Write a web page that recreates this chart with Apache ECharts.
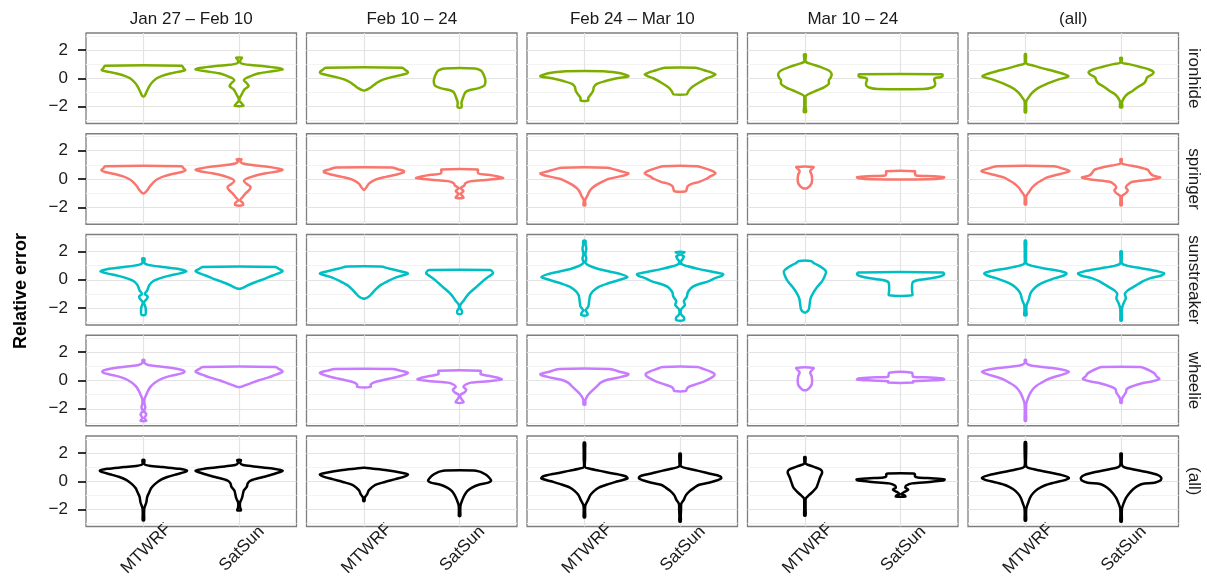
<!DOCTYPE html>
<html>
<head>
<meta charset="utf-8">
<script src="https://cdn.jsdelivr.net/npm/echarts@6/dist/echarts.min.js"></script>
<style>html,body{margin:0;padding:0;background:#fff}#chart{width:1207px;height:581px}</style>
</head>
<body>
<div id="chart"></div>
<script>
// ---- categories ----
const columns = ['Jan 27 \u2013 Feb 10', 'Feb 10 \u2013 24', 'Feb 24 \u2013 Mar 10', 'Mar 10 \u2013 24', '(all)'];
const rows = ['ironhide', 'springer', 'sunstreaker', 'wheelie', '(all)'];
const dayTypes = ['MTWRF', 'SatSun'];
const rowColors = ['#7CAE00', '#F8766D', '#00BFC4', '#C77CFF', '#000000'];
const yTicks = [-2, 0, 2];
const yGridMajor = [-2, 0, 2];
const yGridMinor = [-3, -1, 1, 3];

// ---- violin profiles: [relative error, half width], bottom to top, one per column ----
const ironhideMTWRF = [
  [[-1.27,0.01],[-1.0,0.03],[-0.6,0.06],[-0.3,0.09],[0,0.14],[0.15,0.19],[0.33,0.28],[0.45,0.36],[0.57,0.435],[0.7,0.42],[0.88,0.40]],
  [[-0.86,0.01],[-0.7,0.06],[-0.5,0.1],[-0.3,0.14],[-0.1,0.2],[0.1,0.3],[0.3,0.43],[0.43,0.46],[0.6,0.43],[0.74,0.40]],
  [[-1.57,0.04],[-1.4,0.04],[-1.2,0.06],[-0.9,0.09],[-0.6,0.1],[-0.4,0.13],[-0.2,0.22],[0,0.34],[0.14,0.46],[0.27,0.42],[0.4,0.33],[0.5,0.2]],
  [[-2.38,0.012],[-2.0,0.007],[-1.6,0.007],[-1.25,0.01],[-1.05,0.06],[-0.85,0.13],[-0.65,0.2],[-0.4,0.25],[-0.15,0.25],[0.05,0.27],[0.3,0.28],[0.55,0.25],[0.8,0.16],[1.0,0.07],[1.15,0.01],[1.4,0.007],[1.68,0.01]],
  [[-2.4,0.007],[-2.0,0.007],[-1.6,0.01],[-1.3,0.04],[-1.1,0.06],[-0.8,0.11],[-0.6,0.16],[-0.35,0.24],[-0.1,0.34],[0.05,0.42],[0.15,0.45],[0.3,0.4],[0.5,0.3],[0.7,0.18],[0.9,0.08],[1.05,0.01],[1.3,0.006],[1.7,0.006]]
];
const ironhideSatSun = [
  [[-1.95,0.045],[-1.8,0.03],[-1.6,0.004],[-1.4,0.006],[-1.1,0.03],[-0.8,0.055],[-0.55,0.1],[-0.35,0.08],[-0.15,0.05],[0,0.07],[0.2,0.14],[0.35,0.21],[0.5,0.35],[0.62,0.455],[0.72,0.41],[0.82,0.3],[0.92,0.15],[1.0,0.05],[1.1,0.012],[1.3,0.015],[1.45,0.03]],
  [[-2.05,0.02],[-1.7,0.02],[-1.3,0.04],[-1.0,0.06],[-0.85,0.1],[-0.7,0.2],[-0.5,0.26],[-0.2,0.27],[0.1,0.26],[0.4,0.24],[0.55,0.22],[0.69,0.16]],
  [[-1.14,0.07],[-1.0,0.08],[-0.8,0.1],[-0.6,0.13],[-0.3,0.2],[0,0.28],[0.15,0.34],[0.27,0.37],[0.4,0.33],[0.55,0.26],[0.68,0.2],[0.74,0.16]],
  [[-0.76,0.24],[-0.65,0.33],[-0.5,0.36],[-0.3,0.36],[-0.1,0.35],[0.0,0.36],[0.1,0.43],[0.22,0.44],[0.29,0.43]],
  [[-2.05,0.012],[-1.7,0.01],[-1.4,0.03],[-1.1,0.07],[-0.9,0.12],[-0.6,0.18],[-0.35,0.24],[-0.15,0.26],[0.05,0.27],[0.25,0.32],[0.42,0.34],[0.6,0.3],[0.8,0.2],[1.0,0.08],[1.1,0.01],[1.3,0.007],[1.43,0.01]]
];
const springerMTWRF = [
  [[-1.0,0.01],[-0.8,0.04],[-0.5,0.07],[-0.2,0.11],[0,0.15],[0.2,0.22],[0.35,0.3],[0.5,0.4],[0.62,0.44],[0.75,0.42],[0.9,0.40]],
  [[-0.75,0.006],[-0.55,0.03],[-0.35,0.05],[-0.15,0.09],[0,0.14],[0.15,0.23],[0.3,0.33],[0.45,0.41],[0.55,0.42],[0.68,0.36],[0.81,0.29]],
  [[-1.85,0.01],[-1.5,0.007],[-1.2,0.03],[-0.9,0.05],[-0.65,0.08],[-0.4,0.13],[-0.15,0.2],[0,0.25],[0.15,0.35],[0.3,0.44],[0.4,0.46],[0.55,0.38],[0.7,0.3],[0.8,0.24]],
  [[-0.65,0.02],[-0.5,0.05],[-0.3,0.07],[0,0.075],[0.3,0.07],[0.55,0.055],[0.7,0.07],[0.85,0.09]],
  [[-1.8,0.007],[-1.5,0.007],[-1.2,0.01],[-0.9,0.04],[-0.6,0.07],[-0.3,0.12],[-0.1,0.17],[0.1,0.22],[0.3,0.33],[0.45,0.42],[0.57,0.46],[0.72,0.4],[0.9,0.3]]
];
const springerSatSun = [
  [[-1.85,0.04],[-1.7,0.04],[-1.5,0.01],[-1.25,0.04],[-1.0,0.07],[-0.75,0.11],[-0.55,0.12],[-0.35,0.08],[-0.15,0.05],[0,0.07],[0.2,0.15],[0.4,0.28],[0.55,0.41],[0.65,0.455],[0.75,0.4],[0.88,0.28],[1.0,0.12],[1.1,0.04],[1.25,0.012],[1.4,0.025]],
  [[-1.33,0.04],[-1.2,0.03],[-1.05,0.01],[-0.85,0.04],[-0.65,0.01],[-0.45,0.05],[-0.3,0.06],[-0.15,0.12],[-0.05,0.3],[0.06,0.455],[0.18,0.4],[0.3,0.3],[0.38,0.2],[0.5,0.19],[0.67,0.19]],
  [[-0.86,0.06],[-0.7,0.07],[-0.5,0.08],[-0.35,0.12],[-0.2,0.2],[0,0.27],[0.2,0.32],[0.4,0.37],[0.55,0.34],[0.75,0.26],[0.9,0.18]],
  [[-0.02,0.3],[0.05,0.44],[0.12,0.455],[0.2,0.35],[0.25,0.16],[0.4,0.15],[0.55,0.15]],
  [[-1.86,0.007],[-1.5,0.007],[-1.2,0.01],[-1.0,0.05],[-0.8,0.07],[-0.6,0.05],[-0.4,0.07],[-0.2,0.12],[-0.05,0.3],[0.1,0.41],[0.25,0.33],[0.45,0.3],[0.65,0.28],[0.85,0.18],[1.0,0.06],[1.1,0.007],[1.4,0.007]]
];
const sunstreakerMTWRF = [
  [[-2.48,0.02],[-2.2,0.025],[-1.9,0.02],[-1.6,0.006],[-1.4,0.03],[-1.2,0.045],[-1.0,0.015],[-0.75,0.04],[-0.4,0.06],[-0.1,0.1],[0.1,0.17],[0.3,0.28],[0.45,0.38],[0.6,0.45],[0.75,0.38],[0.9,0.2],[1.05,0.05],[1.2,0.01],[1.5,0.012]],
  [[-1.33,0.01],[-1.2,0.05],[-1.0,0.08],[-0.7,0.12],[-0.4,0.17],[-0.1,0.25],[0.15,0.33],[0.35,0.43],[0.45,0.46],[0.6,0.38],[0.8,0.26],[0.93,0.17]],
  [[-2.5,0.03],[-2.35,0.03],[-2.15,0.012],[-1.9,0.04],[-1.5,0.05],[-1.1,0.06],[-0.8,0.09],[-0.5,0.15],[-0.25,0.25],[0,0.37],[0.2,0.45],[0.4,0.38],[0.6,0.25],[0.8,0.13],[1.0,0.05],[1.2,0.01],[1.5,0.02],[1.8,0.01],[2.2,0.02],[2.5,0.012],[2.75,0.012]],
  [[-2.3,0.012],[-2.1,0.04],[-1.7,0.05],[-1.3,0.06],[-0.9,0.09],[-0.5,0.13],[-0.1,0.18],[0.3,0.21],[0.6,0.22],[0.9,0.17],[1.15,0.1],[1.33,0.06]],
  [[-2.5,0.012],[-2.2,0.01],[-1.8,0.012],[-1.4,0.035],[-1.0,0.05],[-0.7,0.08],[-0.4,0.13],[-0.15,0.2],[0.1,0.3],[0.3,0.4],[0.45,0.43],[0.6,0.37],[0.8,0.2],[1.0,0.06],[1.15,0.01],[1.6,0.007],[2.2,0.007],[2.75,0.007]]
];
const sunstreakerSatSun = [
  [[-0.62,0.02],[-0.5,0.06],[-0.3,0.12],[-0.1,0.2],[0.1,0.28],[0.3,0.35],[0.5,0.43],[0.62,0.455],[0.75,0.42],[0.9,0.38]],
  [[-2.4,0.02],[-2.2,0.025],[-2.0,0.006],[-1.75,0.01],[-1.5,0.04],[-1.2,0.07],[-0.9,0.11],[-0.6,0.16],[-0.3,0.21],[0,0.26],[0.25,0.31],[0.45,0.35],[0.6,0.34],[0.69,0.32]],
  [[-2.85,0.04],[-2.65,0.04],[-2.45,0.01],[-2.1,0.01],[-1.8,0.05],[-1.5,0.04],[-1.2,0.07],[-0.9,0.08],[-0.7,0.1],[-0.5,0.13],[-0.3,0.2],[-0.1,0.3],[0.1,0.36],[0.3,0.44],[0.4,0.45],[0.55,0.35],[0.75,0.2],[0.95,0.08],[1.1,0.02],[1.3,0.01],[1.5,0.03],[1.65,0.04],[1.8,0.006],[1.95,0.045]],
  [[-1.1,0.12],[-0.8,0.12],[-0.4,0.12],[-0.15,0.13],[0,0.2],[0.1,0.32],[0.25,0.42],[0.38,0.455],[0.52,0.44]],
  [[-2.88,0.007],[-2.4,0.007],[-2.0,0.01],[-1.6,0.03],[-1.3,0.05],[-1.0,0.04],[-0.75,0.07],[-0.5,0.13],[-0.3,0.18],[-0.1,0.23],[0.1,0.3],[0.3,0.42],[0.45,0.45],[0.6,0.38],[0.8,0.22],[1.0,0.06],[1.15,0.01],[1.6,0.007],[2.0,0.007]]
];
const wheelieMTWRF = [
  [[-2.85,0.03],[-2.65,0.01],[-2.4,0.03],[-2.15,0.007],[-1.9,0.02],[-1.6,0.01],[-1.3,0.012],[-1.0,0.03],[-0.7,0.05],[-0.4,0.08],[-0.1,0.13],[0.15,0.2],[0.35,0.3],[0.5,0.4],[0.62,0.43],[0.75,0.4],[0.88,0.3],[1.0,0.15],[1.1,0.05],[1.25,0.01],[1.45,0.01]],
  [[-0.45,0.07],[-0.3,0.07],[-0.15,0.1],[0,0.18],[0.15,0.28],[0.3,0.37],[0.45,0.44],[0.55,0.46],[0.7,0.38],[0.81,0.3]],
  [[-1.7,0.01],[-1.4,0.01],[-1.1,0.03],[-0.85,0.06],[-0.6,0.1],[-0.35,0.14],[-0.15,0.17],[0.05,0.24],[0.2,0.35],[0.35,0.44],[0.45,0.46],[0.6,0.38],[0.81,0.26]],
  [[-0.67,0.02],[-0.5,0.05],[-0.3,0.07],[0,0.075],[0.3,0.07],[0.55,0.055],[0.7,0.07],[0.88,0.09]],
  [[-2.85,0.007],[-2.4,0.007],[-2.0,0.007],[-1.6,0.01],[-1.2,0.03],[-0.9,0.05],[-0.6,0.08],[-0.35,0.12],[-0.15,0.17],[0.05,0.22],[0.25,0.3],[0.45,0.4],[0.62,0.455],[0.75,0.4],[0.88,0.28],[1.0,0.12],[1.1,0.04],[1.25,0.007],[1.45,0.007]]
];
const wheelieSatSun = [
  [[-0.45,0.02],[-0.35,0.06],[-0.2,0.12],[0,0.2],[0.2,0.3],[0.4,0.38],[0.55,0.44],[0.65,0.455],[0.8,0.42],[0.95,0.38]],
  [[-1.55,0.04],[-1.4,0.03],[-1.2,0.01],[-1.0,0.01],[-0.85,0.05],[-0.65,0.07],[-0.45,0.04],[-0.3,0.06],[-0.15,0.12],[-0.05,0.3],[0.08,0.44],[0.2,0.4],[0.33,0.3],[0.45,0.22],[0.55,0.22],[0.69,0.22]],
  [[-0.74,0.06],[-0.6,0.07],[-0.45,0.09],[-0.3,0.15],[-0.1,0.24],[0.1,0.3],[0.3,0.35],[0.45,0.36],[0.6,0.33],[0.8,0.25],[0.95,0.18]],
  [[-0.15,0.13],[-0.05,0.13],[0.0,0.3],[0.07,0.455],[0.14,0.44],[0.22,0.3],[0.27,0.13],[0.55,0.12]],
  [[-1.57,0.007],[-1.3,0.01],[-1.05,0.03],[-0.85,0.05],[-0.6,0.06],[-0.4,0.12],[-0.2,0.22],[-0.05,0.33],[0.1,0.4],[0.3,0.37],[0.5,0.35],[0.7,0.3],[0.85,0.25],[0.95,0.2]]
];
const allMTWRF = [
  [[-2.75,0.007],[-2.3,0.007],[-1.9,0.01],[-1.5,0.03],[-1.1,0.04],[-0.8,0.06],[-0.5,0.08],[-0.2,0.12],[0.1,0.18],[0.3,0.25],[0.5,0.35],[0.65,0.43],[0.75,0.455],[0.88,0.38],[1.0,0.2],[1.1,0.06],[1.2,0.01],[1.5,0.01]],
  [[-1.4,0.006],[-1.15,0.01],[-0.9,0.035],[-0.65,0.05],[-0.45,0.08],[-0.25,0.12],[-0.05,0.22],[0.15,0.33],[0.35,0.43],[0.48,0.46],[0.62,0.38],[0.78,0.24],[0.9,0.08],[0.95,0.01]],
  [[-2.55,0.007],[-2.1,0.007],[-1.7,0.01],[-1.3,0.04],[-1.0,0.06],[-0.7,0.1],[-0.45,0.15],[-0.2,0.25],[0.0,0.35],[0.2,0.45],[0.35,0.43],[0.55,0.3],[0.75,0.15],[0.9,0.05],[1.0,0.007],[1.6,0.007],[2.2,0.007],[2.72,0.007]],
  [[-2.42,0.007],[-2.0,0.007],[-1.6,0.007],[-1.2,0.01],[-1.0,0.04],[-0.75,0.08],[-0.45,0.12],[-0.1,0.14],[0.3,0.16],[0.6,0.18],[0.8,0.17],[1.0,0.1],[1.15,0.04],[1.25,0.007],[1.7,0.007]],
  [[-2.78,0.007],[-2.3,0.007],[-1.9,0.01],[-1.5,0.03],[-1.15,0.05],[-0.85,0.08],[-0.55,0.13],[-0.3,0.2],[-0.1,0.3],[0.1,0.42],[0.23,0.455],[0.4,0.4],[0.6,0.27],[0.8,0.12],[0.95,0.03],[1.1,0.007],[1.8,0.007],[2.75,0.007]]
];
const allSatSun = [
  [[-2.05,0.02],[-1.85,0.01],[-1.5,0.01],[-1.2,0.03],[-0.9,0.04],[-0.65,0.05],[-0.4,0.08],[-0.15,0.09],[0.05,0.12],[0.3,0.25],[0.55,0.38],[0.75,0.455],[0.9,0.35],[1.05,0.15],[1.15,0.04],[1.3,0.01],[1.5,0.02]],
  [[-2.45,0.007],[-2.1,0.007],[-1.7,0.01],[-1.3,0.03],[-1.0,0.05],[-0.7,0.08],[-0.45,0.13],[-0.25,0.2],[-0.1,0.3],[0.05,0.33],[0.25,0.31],[0.45,0.28],[0.6,0.24],[0.7,0.2],[0.76,0.15]],
  [[-2.85,0.007],[-2.4,0.007],[-2.0,0.01],[-1.6,0.012],[-1.3,0.04],[-1.0,0.06],[-0.7,0.1],[-0.45,0.15],[-0.25,0.2],[-0.1,0.3],[0.05,0.38],[0.2,0.43],[0.35,0.42],[0.55,0.3],[0.75,0.18],[0.9,0.08],[1.05,0.01],[1.4,0.007],[1.95,0.007]],
  [[-1.08,0.05],[-1.0,0.04],[-0.9,0.01],[-0.75,0.04],[-0.6,0.08],[-0.45,0.05],[-0.3,0.06],[-0.15,0.12],[-0.05,0.3],[0.05,0.44],[0.12,0.46],[0.2,0.35],[0.27,0.18],[0.35,0.15],[0.5,0.15],[0.55,0.13]],
  [[-2.85,0.007],[-2.3,0.007],[-1.9,0.01],[-1.5,0.03],[-1.2,0.05],[-0.9,0.08],[-0.6,0.12],[-0.35,0.17],[-0.2,0.22],[-0.1,0.35],[0.05,0.41],[0.25,0.42],[0.45,0.38],[0.65,0.27],[0.85,0.12],[1.0,0.03],[1.2,0.007],[1.95,0.007]]
];

const profilesMTWRF = [ironhideMTWRF, springerMTWRF, sunstreakerMTWRF, wheelieMTWRF, allMTWRF];
const profilesSatSun = [ironhideSatSun, springerSatSun, sunstreakerSatSun, wheelieSatSun, allSatSun];

// ---- layout ----
const FONT = 'Liberation Sans';
const panelLeft0 = 86, panelStepX = 220.5, panelW = 210.5;
const panelTop0 = 33, panelStepY = 100.75, panelH = 90.5;
const Y_MIN = -3.2, Y_MAX = 3.2, X_MIN = 0.4, X_MAX = 2.6;

function outline(profile, center) {
  const right = profile.map(p => [center + p[1], p[0]]);
  const left = profile.slice().reverse().map(p => [center - p[1], p[0]]);
  return right.concat(left);
}
const fmtNum = v => (v < 0 ? '\u2212' + Math.abs(v) : String(v));

const grids = [], xAxes = [], yAxes = [], series = [];
for (let r = 0; r < rows.length; r++) {
  for (let c = 0; c < columns.length; c++) {
    const gi = grids.length;
    grids.push({
      left: panelLeft0 + c * panelStepX, top: panelTop0 + r * panelStepY,
      width: panelW, height: panelH, show: true, backgroundColor: '#fff',
      borderColor: '#7f7f7f', borderWidth: 1.3, containLabel: false
    });
    const isBottom = r === rows.length - 1, isTop = r === 0;
    xAxes.push({
      gridIndex: gi, type: 'value', min: X_MIN, max: X_MAX,
      position: isTop ? 'top' : 'bottom',
      name: isTop ? columns[c] : '', nameLocation: 'middle', nameGap: 5,
      nameTextStyle: { fontFamily: FONT, fontSize: 17, color: '#1a1a1a' },
      axisLine: { show: false }, splitLine: { show: false },
      axisTick: { show: isBottom, customValues: [1, 2], length: 9, lineStyle: { color: '#000', width: 1.6 } },
      axisLabel: { show: isBottom, customValues: [1, 2], formatter: v => dayTypes[Math.round(v) - 1],
        rotate: 45, align: 'center', verticalAlign: 'middle', margin: 25, padding: [0, 0, 0, 8],
        fontFamily: FONT, fontSize: 17, color: '#1a1a1a' }
    });
    const isLeft = c === 0, isRight = c === columns.length - 1;
    yAxes.push({
      gridIndex: gi, type: 'value', min: Y_MIN, max: Y_MAX,
      position: isRight ? 'right' : 'left',
      name: isRight ? rows[r] : '', nameLocation: 'middle', nameRotate: -90, nameGap: 7,
      nameTextStyle: { fontFamily: FONT, fontSize: 17, color: '#1a1a1a' },
      axisLine: { show: false }, splitLine: { show: false },
      axisTick: { show: isLeft, customValues: yTicks, length: 8, lineStyle: { color: '#000', width: 1.6 } },
      axisLabel: { show: isLeft, customValues: yTicks, formatter: fmtNum, margin: 18,
        fontFamily: FONT, fontSize: 17, color: '#1a1a1a' }
    });
    // grid lines (drawn beneath the violins)
    const mk = [];
    yGridMinor.forEach(v => mk.push({ yAxis: v, lineStyle: { color: '#f3f3f3', width: 1.2, type: 'solid' } }));
    yGridMajor.forEach(v => mk.push({ yAxis: v, lineStyle: { color: '#e3e3e3', width: 1.2, type: 'solid' } }));
    [1, 2].forEach(v => mk.push({ xAxis: v, lineStyle: { color: '#e3e3e3', width: 1.2, type: 'solid' } }));
    series.push({
      type: 'line', xAxisIndex: gi, yAxisIndex: gi, data: [], z: 1, silent: true,
      markLine: { silent: true, z: 1, symbol: 'none', label: { show: false }, animation: false, data: mk }
    });
    [profilesMTWRF[r][c], profilesSatSun[r][c]].forEach((prof, d) => {
      const color = rowColors[r];
      series.push({
        type: 'custom', xAxisIndex: gi, yAxisIndex: gi, z: 10, silent: true,
        data: [[d + 1, 0]],
        renderItem: (params, api) => ({
          type: 'polygon',
          shape: { points: outline(prof, api.value(0)).map(p => api.coord(p)), smooth: 0.3 },
          style: { fill: '#ffffff', stroke: color, lineWidth: 2.5, lineJoin: 'round' }
        })
      });
    });
  }
}

const chart = echarts.init(document.getElementById('chart'), null, { renderer: 'canvas' });
chart.setOption({
  animation: false,
  backgroundColor: '#fff',
  textStyle: { fontFamily: FONT },
  grid: grids, xAxis: xAxes, yAxis: yAxes, series: series,
  graphic: [{
    type: 'text', x: 21, y: 291, rotation: Math.PI / 2,
    style: { text: 'Relative error', font: 'bold 18px "Liberation Sans"', fill: '#000', textAlign: 'center', textVerticalAlign: 'middle' }
  }]
});
</script>
</body>
</html>
